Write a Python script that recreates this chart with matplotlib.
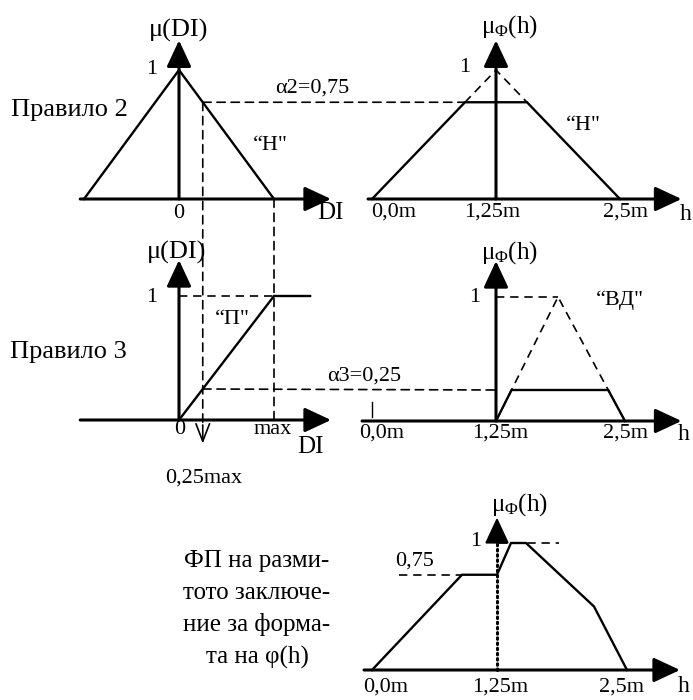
import matplotlib
matplotlib.use("Agg")
import matplotlib.pyplot as plt
from matplotlib.patches import ConnectionPatch

plt.rcParams['font.family'] = ['Liberation Serif', 'DejaVu Serif']
plt.rcParams['mathtext.fontset'] = 'custom'
plt.rcParams['mathtext.rm'] = 'Liberation Serif'
plt.rcParams['mathtext.it'] = 'Liberation Serif'

W, H = 693, 700

# input terms (DI measured in units of max)
di_n = [-1.0, 0.0, 1.0]          # "Н"
mu_n_di = [0, 1, 0]
di_p = [0.0, 1.0, 1.38]          # "П"
mu_p = [0, 1, 1]
alpha2 = 0.75
alpha3 = 0.25
di_in = 0.25                     # 0,25max

# output terms, h in m
h_n = [0.0, 1.25, 2.5]           # "Н"
h_vd = [1.25, 1.875, 2.55]       # "ВД"
h_ticks = [0.0, 1.25, 2.5]
h_tick_labels = ['0,0m', '1,25m', '2,5m']

# resulting fuzzy conclusion as drawn
h_out = [0.0, 0.90, 1.25, 1.39, 1.54, 2.22, 2.55]
mu_out = [0, 0.75, 0.75, 1.0, 1.0, 0.5, 0]

fig = plt.figure(figsize=(W / 100, H / 100), dpi=100)


def panel(ox, oy, sx, sy, xlim, ylim):
    left = (ox + xlim[0] * sx) / W
    bottom = (H - (oy - ylim[0] * sy)) / H
    ax = fig.add_axes([left, bottom, (xlim[1] - xlim[0]) * sx / W, (ylim[1] - ylim[0]) * sy / H])
    ax.set_xlim(xlim)
    ax.set_ylim(ylim)
    ax.axis('off')
    return ax


def arrow(ax, start, tip, lw=2.2, style='-|>,head_length=0.9,head_width=0.42', ms=18):
    ax.annotate('', xy=tip, xytext=start, annotation_clip=False,
                arrowprops=dict(arrowstyle=style, lw=lw, color='k', shrinkA=0, shrinkB=0,
                                mutation_scale=ms))


def clip_tri(xs, a):
    return [xs[0], xs[0] + a * (xs[1] - xs[0]), xs[2] - a * (xs[2] - xs[1]), xs[2]], [0, a, a, 0]


def label(px, py, s, size=17, **kw):
    fig.text(px / W, 1 - py / H, s, fontsize=size, ha='center', va='center', **kw)


dash = dict(color='k', lw=1.2, linestyle=(0, (5, 3.5)), clip_on=False)
solid = dict(color='k', lw=1.7, clip_on=False, solid_joinstyle='miter')

ax1 = panel(179, 199, 95, 129, (-1.2, 1.7), (-0.3, 1.35))
ax2 = panel(372, 199, 99.2, 129, (-0.3, 3.3), (-0.3, 1.35))
ax3 = panel(179, 420, 95, 124, (-1.2, 1.7), (-0.3, 1.35))
ax4 = panel(372, 421, 99.2, 124, (-0.3, 3.3), (-0.3, 1.35))
ax5 = panel(372, 670, 100, 127, (-0.3, 3.3), (-0.3, 1.35))

# rule 2, input
arrow(ax1, (-1.04, 0), (1.6, 0))
arrow(ax1, (0, 0), (0, 1.23))
ax1.plot(di_n, mu_n_di, **solid)

# rule 2, output
arrow(ax2, (-0.04, 0), (3.12, 0))
arrow(ax2, (1.25, 0), (1.25, 1.23))
cx, cy = clip_tri(h_n, alpha2)
ax2.plot(cx, cy, **solid)
ax2.plot([cx[1], h_n[1], cx[2]], [alpha2, 1, alpha2], **dash)

# rule 3, input
arrow(ax3, (-1.04, 0), (1.6, 0))
arrow(ax3, (0, 0), (0, 1.29))
ax3.plot(di_p, mu_p, **solid)
ax3.plot([0, di_p[1]], [1, 1], **dash)
arrow(ax3, (di_in, -0.04), (di_in, -0.19), lw=1.2, style='->,head_length=0.9,head_width=0.35', ms=14)

# rule 3, output
arrow(ax4, (-0.1, 0), (3.12, 0))
arrow(ax4, (1.25, 0), (1.25, 1.29))
ax4.plot(h_vd, [0, 1, 0], **dash)
ax4.plot([h_vd[0], h_vd[1]], [1, 1], **dash)
cx, cy = clip_tri(h_vd, alpha3)
ax4.plot(cx, cy, **solid)
ax4.plot([0, 0], [0.03, 0.15], color='k', lw=1.0)

# aggregated conclusion
arrow(ax5, (-0.08, 0), (3.08, 0))
ax5.plot([1.25, 1.25], [0, 1.0], color='k', lw=2.2, linestyle=(0, (0.5, 1.2)),
         dash_capstyle='round')
arrow(ax5, (1.25, 1.02), (1.25, 1.2), lw=1.5)
ax5.plot(h_out, mu_out, **solid)
ax5.plot([0.27, h_out[1]], [0.75, 0.75], **dash)
ax5.plot([1.27, 1.87], [1, 1], **dash)

# links between panels
links = [
    (ax1, (di_in, alpha2), ax2, (clip_tri(h_n, alpha2)[0][1], alpha2)),
    (ax3, (di_in, alpha3), ax4, (h_vd[0], alpha3)),
    (ax1, (di_in, alpha2), ax3, (di_in, -0.04)),
    (ax1, (1.0, 0), ax3, (1.0, 0)),
]
for axa, pa, axb, pb in links:
    con = ConnectionPatch(xyA=pa, coordsA=axa.transData, xyB=pb, coordsB=axb.transData,
                          color='k', lw=1.2, linestyle=(0, (5, 3.5)))
    fig.add_artist(con)

# texts
label(179, 30, 'μ(DI)', 19)
label(152, 70, '1', 16)
label(179, 213, '0', 16)
label(330, 213, 'DI', 18)
label(270, 145, '“Н"', 16)
label(69, 110, 'Правило 2', 19)
label(312, 88, 'α2=0,75', 16)

label(509, 27, r'$\mu_{\Phi}(h)$', 18)
label(465, 68, '1', 16)
label(583, 125, '“Н"', 16)
label(394, 212, h_tick_labels[0], 16)
label(492, 212, h_tick_labels[1], 16)
label(626, 212, h_tick_labels[2], 16)
label(686, 214, 'h', 17)

label(177, 252, 'μ(DI)', 19)
label(152, 297, '1', 16)
label(232, 320, '“П"', 16)
label(68, 352, 'Правило 3', 19)
label(364, 376, 'α3=0,25', 16)
label(180, 430, '0', 16)
label(273, 430, 'max', 16)
label(310, 447, 'DI', 18)
label(204, 478, '0,25max', 16)

label(509, 253, r'$\mu_{\Phi}(h)$', 18)
label(475, 298, '1', 16)
label(620, 300, '“ВД"', 16)
label(382, 433, h_tick_labels[0], 16)
label(500, 433, h_tick_labels[1], 16)
label(625, 433, h_tick_labels[2], 16)
label(684, 435, 'h', 17)

label(519, 505, r'$\mu_{\Phi}(h)$', 18)
label(476, 542, '1', 16)
label(415, 561, '0,75', 16)
label(386, 687, h_tick_labels[0], 16)
label(500, 687, h_tick_labels[1], 16)
label(622, 687, h_tick_labels[2], 16)
label(684, 686, 'h', 17)
label(257, 561, 'ФП на разми-', 18)
label(257, 593, 'тото заключе-', 18)
label(257, 625, 'ние за форма-', 18)
label(257, 657, 'та на φ(h)', 18)

fig.savefig('out.png', dpi=100)
